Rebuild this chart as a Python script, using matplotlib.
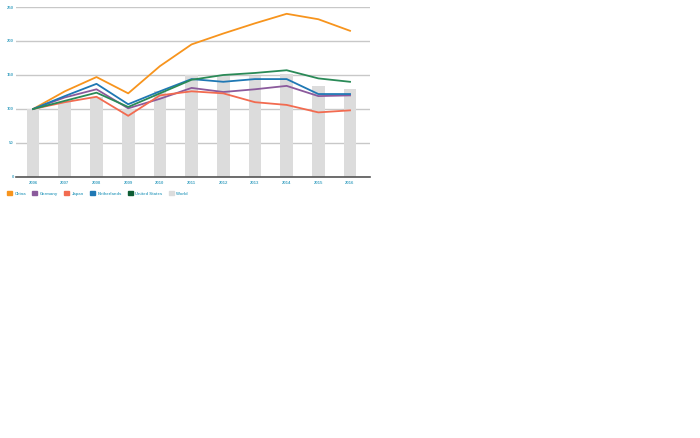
import numpy as np
import matplotlib.pyplot as plt
from matplotlib.patches import Patch

years = ["2006", "2007", "2008", "2009", "2010", "2011", "2012", "2013", "2014", "2015", "2016"]
world = [100, 111, 117, 100, 126, 150, 148, 149, 152, 134, 130]
china = [100, 126, 147, 123, 163, 195, 211, 226, 240, 232, 215]
germany = [100, 117, 129, 101, 115, 131, 125, 129, 134, 119, 120]
japan = [100, 110, 118, 90, 120, 126, 123, 110, 106, 95, 98]
netherlands = [100, 119, 137, 107, 126, 144, 140, 144, 144, 122, 122]
united_states = [100, 112, 124, 103, 123, 143, 150, 153, 157, 145, 140]

series = [
    ("China", china, "#f7941d"),
    ("Germany", germany, "#8b5a9c"),
    ("Japan", japan, "#f26b50"),
    ("Netherlands", netherlands, "#1f78b4"),
    ("United States", united_states, "#2a8a57"),
]
legend_colors = {"United States": "#0d5c33"}
text_color = "#4aa8c6"

plt.rcParams["font.family"] = ["Liberation Sans", "DejaVu Sans"]

fig = plt.figure(figsize=(7, 4.38), dpi=100)
ax = fig.add_axes([16 / 700, 1 - 177 / 438, 354 / 700, 170 / 438])

x = np.arange(len(years))
ax.bar(x, world, width=0.4, color="#dcdcdc", zorder=2)
for name, vals, col in series:
    ax.plot(x, vals, color=col, lw=1.3, zorder=3)

ax.set_xlim(-0.54, 10.63)
ax.set_ylim(0, 250)
ax.set_yticks([0, 50, 100, 150, 200, 250])
ax.set_xticks(x)
ax.set_xticklabels(years)
ax.yaxis.grid(True, color="#c8c8c8", lw=1.0, zorder=1)
for s in ["top", "right", "left"]:
    ax.spines[s].set_visible(False)
ax.spines["bottom"].set_color("#555555")
ax.spines["bottom"].set_linewidth(1.2)
ax.tick_params(axis="both", length=0, labelsize=3.1, labelcolor=text_color)
ax.tick_params(axis="x", pad=3)
ax.tick_params(axis="y", pad=1.5)
for lab in ax.get_xticklabels() + ax.get_yticklabels():
    lab.set_fontweight("bold")

handles = [Patch(color=legend_colors.get(n, c), label=n) for n, _, c in series]
handles.append(Patch(color="#dcdcdc", label="World"))
leg = fig.legend(handles=handles, loc="upper left", bbox_to_anchor=(7 / 700, 1 - 191 / 438),
                 ncol=6, frameon=False, fontsize=3.05, handlelength=1.2, handleheight=1.2,
                 handletextpad=0.6, columnspacing=1.4, borderaxespad=0, borderpad=0)
for t in leg.get_texts():
    t.set_color(text_color)
    t.set_fontweight("bold")

fig.savefig("out.png", dpi=100)
